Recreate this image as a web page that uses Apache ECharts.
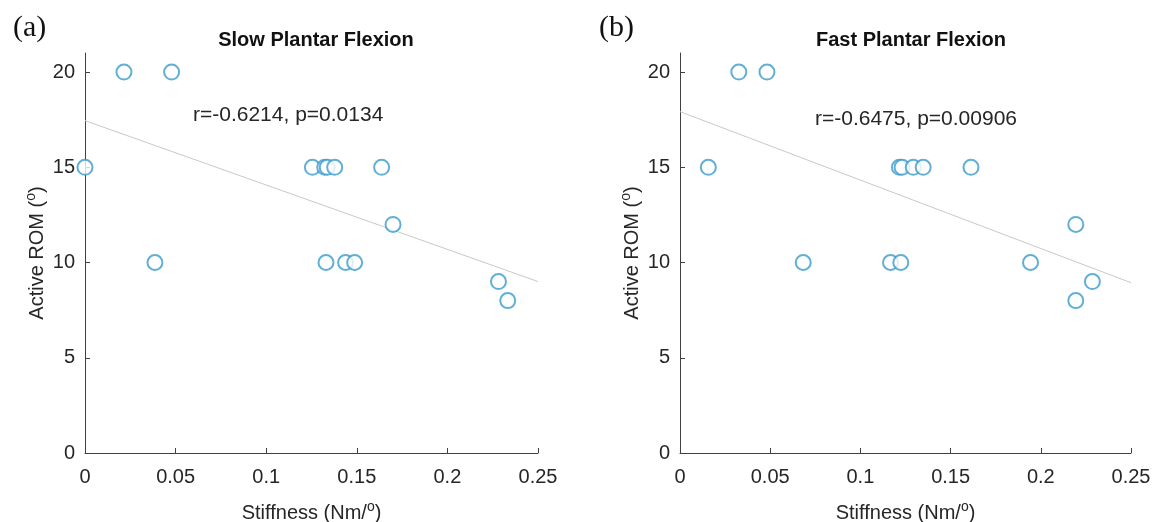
<!DOCTYPE html>
<html><head><meta charset="utf-8">
<script src="https://cdn.jsdelivr.net/npm/echarts@6/dist/echarts.min.js"></script>
<style>html,body{margin:0;padding:0;background:#fff}#c{width:1156px;height:522px}</style>
</head><body><div id="c"></div>
<script>
// Panel (a) Slow Plantar Flexion
const slowStiffness = [0, 0.0215, 0.0478, 0.1255, 0.1323, 0.1337, 0.1378, 0.1637, 0.170, 0.0386, 0.133, 0.1438, 0.1488, 0.2282, 0.2333];
const slowROM       = [15, 20, 20, 15, 15, 15, 15, 15, 12, 10, 10, 10, 10, 9, 8];
const slowFitX = [0, 0.25];
const slowFitY = [17.45, 9.0];
const slowStats = 'r=-0.6214, p=0.0134';
// Panel (b) Fast Plantar Flexion
const fastStiffness = [0.0326, 0.0482, 0.0157, 0.1216, 0.1231, 0.1293, 0.1348, 0.1613, 0.2194, 0.0683, 0.1167, 0.1224, 0.1943, 0.2286, 0.2194];
const fastROM       = [20, 20, 15, 15, 15, 15, 15, 15, 12, 10, 10, 10, 10, 9, 8];
const fastFitX = [0, 0.25];
const fastFitY = [17.92, 8.94];
const fastStats = 'r=-0.6475, p=0.00906';
const yTicks = [0, 5, 10, 15, 20];
const titles = ['Slow Plantar Flexion', 'Fast Plantar Flexion'];
const panelTags = ['(a)', '(b)'];

const zip = (a, b) => a.map((v, i) => [v, b[i]]);
const txt = '#262626', axc = '#404040';
const FONT = '"Liberation Sans", Arial, sans-serif';
const supRich = {
  n: { fontSize: 20, color: txt, fontFamily: FONT },
  s: { fontSize: 14, color: txt, fontFamily: FONT, padding: [0, 0, 12, 0] }
};
function xAxis(i) {
  return {
    type: 'value', gridIndex: i, min: 0, max: 0.25, interval: 0.05,
    axisLine: { lineStyle: { color: axc, width: 1 } },
    axisTick: { inside: true, length: 5, lineStyle: { color: axc } },
    splitLine: { show: false },
    axisLabel: { color: txt, fontSize: 20, fontFamily: FONT, margin: 14 },
    name: '{n|Stiffness (Nm/}{s|o}{n|)}', nameLocation: 'middle', nameGap: 47,
    nameTextStyle: { rich: supRich }
  };
}
function yAxis(i) {
  return {
    type: 'value', gridIndex: i, min: 0, max: 21,
    axisLine: { show: true, lineStyle: { color: axc, width: 1 } },
    axisTick: { show: true, inside: true, length: 5, lineStyle: { color: axc }, customValues: yTicks },
    splitLine: { show: false },
    axisLabel: { color: txt, fontSize: 20, fontFamily: FONT, margin: 10, customValues: yTicks },
    name: '{n|Active ROM (}{s|o}{n|)}', nameLocation: 'middle', nameGap: 35, nameRotate: 90,
    nameTextStyle: { rich: supRich }
  };
}
const scatterStyle = {
  type: 'scatter', symbol: 'emptyCircle', symbolSize: 15,
  itemStyle: { color: '#3a9bcc', borderColor: '#3a9bcc', borderWidth: 1.3 }
};
const lineStyle = {
  type: 'line', symbol: 'none', lineStyle: { color: '#c9c9c9', width: 1 }, z: 1
};
const titleStyle = { fontSize: 20, fontWeight: 'bold', color: '#111', fontFamily: FONT };
const tagStyle = { fontSize: 30, fontWeight: 'normal', color: '#111', fontFamily: '"Liberation Serif", "DejaVu Serif", serif' };
const option = {
  backgroundColor: '#fff',
  animation: false,
  grid: [
    { left: 85, right: 618, top: 53, bottom: 69, outerBoundsMode: 'none', containLabel: false },
    { left: 680, right: 25, top: 53, bottom: 69, outerBoundsMode: 'none', containLabel: false }
  ],
  title: [
    { text: titles[0], left: 311, top: 25, textAlign: 'center', textStyle: titleStyle },
    { text: titles[1], left: 906, top: 25, textAlign: 'center', textStyle: titleStyle },
    { text: panelTags[0], left: 8, top: 8, textStyle: tagStyle },
    { text: panelTags[1], left: 594, top: 8, textStyle: tagStyle }
  ],
  graphic: [
    { type: 'text', left: 193, top: 105, style: { text: slowStats, fontSize: 21, fill: txt, fontFamily: FONT } },
    { type: 'text', left: 815, top: 109, style: { text: fastStats, fontSize: 21, fill: txt, fontFamily: FONT } }
  ],
  xAxis: [xAxis(0), xAxis(1)],
  yAxis: [yAxis(0), yAxis(1)],
  series: [
    Object.assign({}, lineStyle, { xAxisIndex: 0, yAxisIndex: 0, data: zip(slowFitX, slowFitY) }),
    Object.assign({}, scatterStyle, { xAxisIndex: 0, yAxisIndex: 0, data: zip(slowStiffness, slowROM) }),
    Object.assign({}, lineStyle, { xAxisIndex: 1, yAxisIndex: 1, data: zip(fastFitX, fastFitY) }),
    Object.assign({}, scatterStyle, { xAxisIndex: 1, yAxisIndex: 1, data: zip(fastStiffness, fastROM) })
  ]
};
echarts.init(document.getElementById('c')).setOption(option);
</script></body></html>
